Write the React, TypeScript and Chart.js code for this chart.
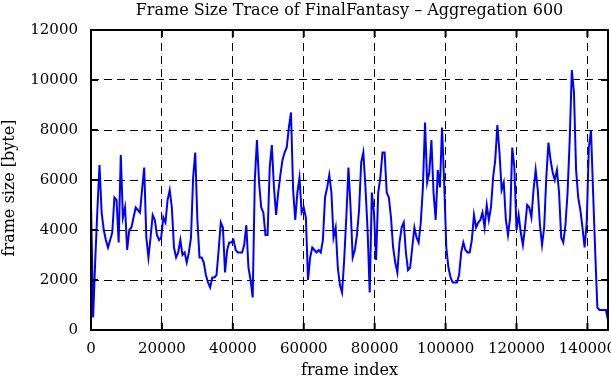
import React, { useEffect, useRef } from "react";
import { Chart, registerables } from "chart.js";

Chart.register(...registerables);

const TITLE = "Frame Size Trace of FinalFantasy \u2013 Aggregation 600";
const X_TITLE = "frame index";
const Y_TITLE = "frame size [byte]";
const AGGREGATION = 600;
const X_MAX = 145800;
const Y_MAX = 12000;

const xTicks = [0, 20000, 40000, 60000, 80000, 100000, 120000, 140000];
const yTicks = [0, 2000, 4000, 6000, 8000, 10000, 12000];

const frameSizes = [
  5100, 500, 2800, 4800, 6600, 4700, 4000, 3600, 3300, 3600,
  3900, 5300, 5200, 3500, 7000, 4500, 4900, 3200, 4000, 4100,
  4500, 4900, 4800, 4700, 5600, 6500, 3700, 2900, 3700, 4600,
  4400, 3800, 3600, 3700, 4500, 4300, 5200, 5600, 4900, 3300,
  2900, 3100, 3600, 3000, 3100, 2700, 3100, 3700, 6100, 7100,
  4400, 2900, 2900, 2700, 2200, 1900, 1700, 2100, 2100, 2200,
  3200, 4300, 4100, 2300, 3200, 3500, 3500, 3600, 3200, 3100,
  3100, 3100, 3400, 4200, 2500, 2000, 1300, 6000, 7600, 5900,
  4900, 4700, 3800, 3800, 6500, 7400, 5700, 4600, 5500, 6200,
  6800, 7100, 7300, 8100, 8700, 5600, 4400, 5500, 6100, 4700,
  4900, 4500, 2000, 2900, 3300, 3200, 3100, 3200, 3100, 3600,
  5300, 5700, 6200, 5500, 3700, 4100, 2500, 1800, 1500, 2800,
  4500, 6500, 4900, 2900, 3200, 3800, 4800, 6700, 7100, 5700,
  4000, 1500, 5500, 4700, 2800, 5500, 6100, 7100, 7100, 5500,
  5300, 4500, 3300, 2700, 2300, 3500, 4100, 4300, 3100, 2400,
  2500, 3300, 4100, 3700, 3500, 4300, 5700, 8300, 5900, 6300,
  7600, 5500, 4400, 6400, 5700, 8100, 5900, 3300, 2500, 2100,
  1900, 1900, 1900, 2200, 3100, 3500, 3200, 3100, 3100, 3600,
  4600, 4100, 4300, 4400, 4700, 4100, 5000, 4400, 4900, 6100,
  6800, 8200, 7100, 5600, 5900, 4400, 3800, 4500, 7300, 6500,
  4000, 4600, 3900, 3400, 4100, 5000, 4900, 4500, 5600, 6400,
  5600, 4200, 3400, 4100, 6100, 7500, 6800, 6300, 6000, 6400,
  5500, 3700, 3500, 4200, 5500, 7600, 10400, 9500, 6400, 5300,
  4800, 4100, 3300, 4300, 7300, 8000, 5500, 3100, 900, 800,
  800, 800, 800, 400,
];

const FONT = "'DejaVu Serif', serif";

const framePlugin = {
  id: "gnuplotFrame",
  afterDraw(chart: any) {
    const { ctx, chartArea } = chart;
    const { left, right, top, bottom } = chartArea;
    const xs = chart.scales.x;
    const ys = chart.scales.y;
    ctx.save();
    ctx.strokeStyle = "#000";
    ctx.lineWidth = 2;
    ctx.setLineDash([]);
    ctx.strokeRect(left, top, right - left, bottom - top);
    const tl = 7;
    ctx.beginPath();
    xTicks.forEach((v) => {
      const px = xs.getPixelForValue(v);
      ctx.moveTo(px, bottom);
      ctx.lineTo(px, bottom - tl);
      ctx.moveTo(px, top);
      ctx.lineTo(px, top + tl);
    });
    yTicks.forEach((v) => {
      const py = ys.getPixelForValue(v);
      ctx.moveTo(left, py);
      ctx.lineTo(left + tl, py);
      ctx.moveTo(right, py);
      ctx.lineTo(right - tl, py);
    });
    ctx.stroke();
    ctx.fillStyle = "#000";
    ctx.textAlign = "center";
    ctx.textBaseline = "middle";
    ctx.font = `16px ${FONT}`;
    ctx.fillText(TITLE, (left + right) / 2, 11);
    ctx.translate(10, (top + bottom) / 2 + 8);
    ctx.rotate(-Math.PI / 2);
    ctx.fillText(Y_TITLE, 0, 0);
    ctx.restore();
  },
};

export default function App() {
  const ref = useRef<HTMLCanvasElement>(null);

  useEffect(() => {
    document.body.style.margin = "0";
    const points = frameSizes.map((v, i) => ({ x: i * AGGREGATION, y: v }));
    const chart = new Chart(ref.current as HTMLCanvasElement, {
      type: "line",
      data: {
        datasets: [
          {
            data: points,
            borderColor: "#0000ff",
            borderWidth: 2,
            pointRadius: 0,
            tension: 0,
            fill: false,
          },
        ],
      },
      options: {
        animation: false,
        responsive: false,
        events: [],
        layout: { padding: { top: 30, right: 3, left: 0, bottom: 0 } },
        plugins: {
          legend: { display: false },
          tooltip: { enabled: false },
          title: { display: false },
        },
        scales: {
          x: {
            type: "linear",
            min: 0,
            max: X_MAX,
            afterBuildTicks: (s: any) => {
              s.ticks = xTicks.map((v) => ({ value: v }));
            },
            afterFit: (s: any) => {
              s.height = 50;
              s.paddingLeft = 0;
              s.paddingRight = 0;
            },
            grid: { color: "#000", lineWidth: 1, drawTicks: false },
            border: { display: false, dash: [8, 5] },
            ticks: {
              autoSkip: false,
              maxRotation: 0,
              padding: 10,
              color: "#000",
              font: { family: FONT, size: 15 },
              callback: (v: any) => String(v),
            },
            title: {
              display: true,
              text: X_TITLE,
              color: "#000",
              font: { family: FONT, size: 16 },
              padding: { top: 0, bottom: 0 },
            },
          },
          y: {
            type: "linear",
            min: 0,
            max: Y_MAX,
            afterBuildTicks: (s: any) => {
              s.ticks = yTicks.map((v) => ({ value: v }));
            },
            afterFit: (s: any) => {
              s.width = 91;
              s.paddingTop = 0;
              s.paddingBottom = 0;
            },
            grid: { color: "#000", lineWidth: 1, drawTicks: false },
            border: { display: false, dash: [8, 5] },
            ticks: {
              padding: 13,
              color: "#000",
              font: { family: FONT, size: 15 },
              callback: (v: any) => String(v),
            },
          },
        },
      },
      plugins: [framePlugin],
    });
    return () => chart.destroy();
  }, []);

  return (
    <div style={{ position: "fixed", left: 0, top: 0, width: 611, height: 380 }}>
      <canvas ref={ref} width={611} height={380} style={{ display: "block" }} />
    </div>
  );
}
